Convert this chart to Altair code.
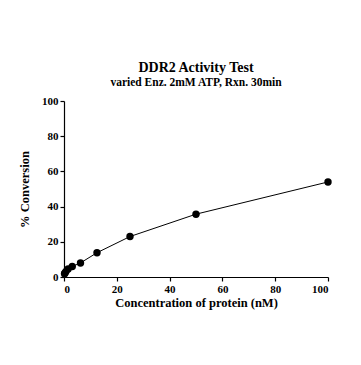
import altair as alt
import pandas as pd

conc = [0.2, 0.39, 0.78, 1.56, 3.125, 6.25, 12.5, 25, 50, 100]
conversion = [1.8, 2.3, 3.2, 4.6, 6.0, 8.0, 13.8, 23.0, 35.7, 54.0]
x_ticks = [0, 20, 40, 60, 80, 100]
y_ticks = [0, 20, 40, 60, 80, 100]

df = pd.DataFrame({"conc": conc, "conv": conversion})

FONT = "Liberation Serif"

x = alt.X("conc:Q", scale=alt.Scale(domain=[0, 100], nice=False),
          axis=alt.Axis(values=x_ticks, title="Concentration of protein (nM)"))
y = alt.Y("conv:Q", scale=alt.Scale(domain=[0, 100], nice=False),
          axis=alt.Axis(values=y_ticks, title="% Conversion"))

line = alt.Chart(df).mark_line(color="black", strokeWidth=1).encode(x=x, y=y)
pts = alt.Chart(df).mark_circle(color="black", opacity=1, size=55).encode(x=x, y=y)

chart = (line + pts).properties(
    width=264, height=176,
    autosize=alt.AutoSizeParams(type="none"),
    padding={"left": 56, "top": 93, "right": 20, "bottom": 50},
    title=alt.TitleParams(
        text="DDR2 Activity Test",
        subtitle="varied Enz. 2mM ATP, Rxn. 30min",
        font=FONT, fontSize=14, fontWeight="bold", color="black",
        subtitleFont=FONT, subtitleFontSize=11.5, subtitleFontWeight="bold",
        subtitleColor="black", anchor="middle", offset=7, subtitlePadding=2,
    ),
).configure_view(stroke=None).configure_axis(
    grid=False, domainColor="black", tickColor="black", domainWidth=1.2,
    tickWidth=1.2, tickSize=4, labelFont=FONT, labelFontSize=11,
    labelFontWeight="bold", labelColor="black", titleFont=FONT,
    titleFontSize=12.5, titleFontWeight="bold", titleColor="black",
    labelPadding=2,
).configure_axisY(titlePadding=10).configure_axisX(titlePadding=2)

chart.save("out.html", embed_options={"renderer": "svg", "actions": False})
